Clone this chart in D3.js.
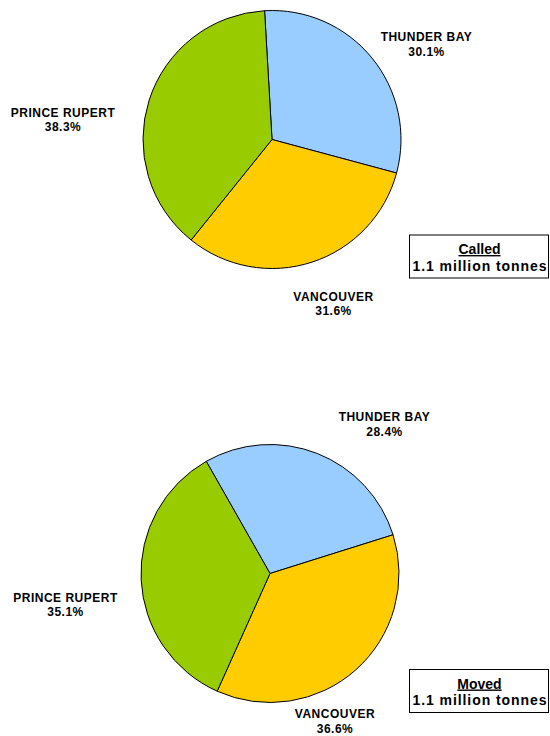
<!DOCTYPE html>
<html>
<head>
<meta charset="utf-8">
<script src="https://cdn.jsdelivr.net/npm/d3@7"></script>
<style>
  html, body { margin: 0; padding: 0; background: #fff; }
  svg { display: block; }
  text { font-family: "Liberation Sans", Arial, sans-serif; font-weight: bold; fill: #000; }
</style>
</head>
<body>
<svg id="chart" width="550" height="736"></svg>
<script>
// Data
const ports = ["THUNDER BAY", "VANCOUVER", "PRINCE RUPERT"];
const calledShares = [30.1, 31.6, 38.3];
const movedShares = [28.4, 36.6, 35.1];
const boxTitles = ["Called", "Moved"];
const boxSubtitles = ["1.1 million tonnes", "1.1 million tonnes"];
const portColors = ["#99CCFF", "#FFCC00", "#99CC00"];

const svg = d3.select("#chart");
const color = d3.scaleOrdinal().domain(ports).range(portColors);

const charts = [
  {
    shares: calledShares, title: boxTitles[0], sub: boxSubtitles[0],
    cx: 272, cy: 139.5, r: 129, start: -3.3,
    labels: [ {x: 426.5, y: 41}, {x: 333.5, y: 300.5}, {x: 63, y: 116.5} ],
    box: {x: 409, y: 234.5, w: 139, h: 43}
  },
  {
    shares: movedShares, title: boxTitles[1], sub: boxSubtitles[1],
    cx: 270, cy: 573.5, r: 129, start: -29.6,
    labels: [ {x: 384.5, y: 421}, {x: 335, y: 718}, {x: 65.5, y: 601.5} ],
    box: {x: 409, y: 669, w: 139, h: 43}
  }
];

charts.forEach(c => {
  const data = ports.map((p, i) => ({port: p, value: c.shares[i]}));
  const startRad = c.start * Math.PI / 180;
  const pie = d3.pie().value(d => d.value).sort(null)
    .startAngle(startRad).endAngle(startRad + 2 * Math.PI);
  const arc = d3.arc().innerRadius(0).outerRadius(c.r);
  const g = svg.append("g").attr("transform", `translate(${c.cx},${c.cy})`);
  g.selectAll("path").data(pie(data)).join("path")
    .attr("d", arc)
    .attr("fill", d => color(d.data.port))
    .attr("stroke", "#000")
    .attr("stroke-width", 1)
    .attr("stroke-linejoin", "round");

  data.forEach((d, i) => {
    const L = c.labels[i];
    const t = svg.append("text")
      .attr("text-anchor", "middle")
      .attr("font-size", 12)
      .attr("letter-spacing", 0.5);
    t.append("tspan").attr("x", L.x).attr("y", L.y).text(d.port);
    t.append("tspan").attr("x", L.x).attr("y", L.y + 14.5).text(d.value.toFixed(1) + "%");
  });

  const b = c.box;
  svg.append("rect")
    .attr("x", b.x + 0.5).attr("y", b.y + 0.5)
    .attr("width", b.w).attr("height", b.h)
    .attr("fill", "#fff").attr("stroke", "#000").attr("stroke-width", 1);
  const mx = b.x + b.w / 2 + 1;
  svg.append("text")
    .attr("x", mx).attr("y", b.y + 19.5)
    .attr("text-anchor", "middle")
    .attr("font-size", 14)
    .attr("text-decoration", "underline")
    .text(c.title);
  svg.append("text")
    .attr("x", mx).attr("y", b.y + 36)
    .attr("text-anchor", "middle")
    .attr("font-size", 14)
    .attr("textLength", 134)
    .attr("lengthAdjust", "spacing")
    .text(c.sub);
});
</script>
</body>
</html>
